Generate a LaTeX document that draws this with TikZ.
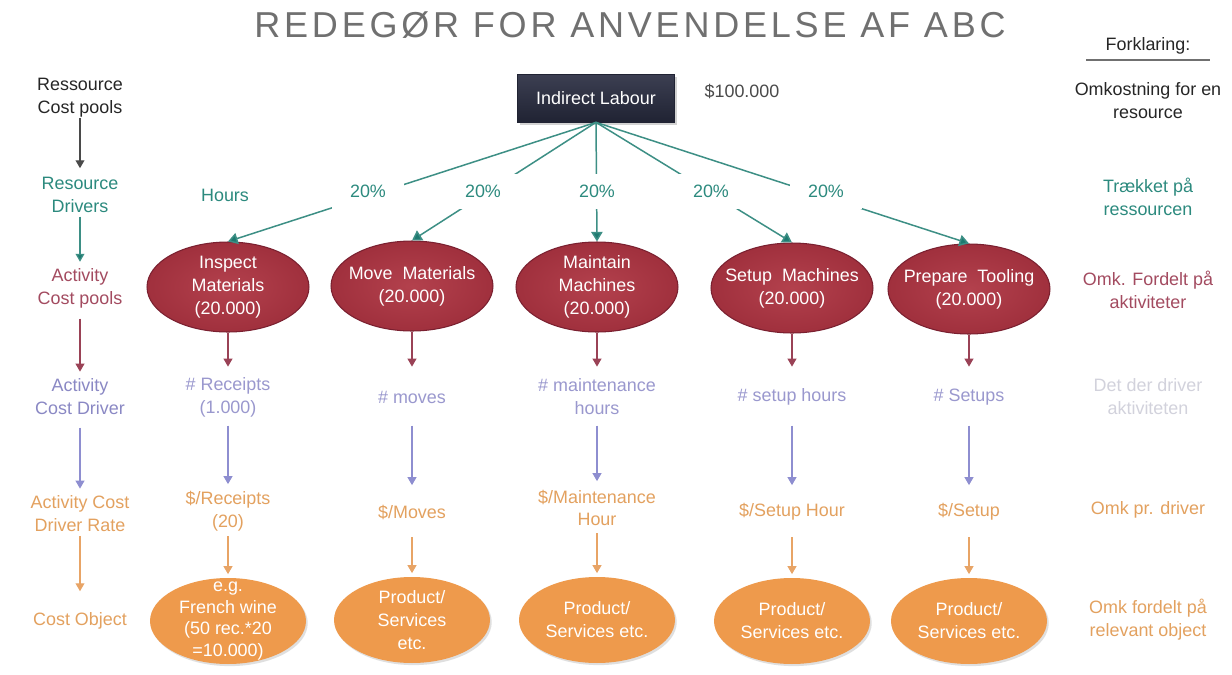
\documentclass[tikz,border=0pt]{standalone}
\usepackage{fontspec}
\setmainfont{Liberation Sans}
\usetikzlibrary{arrows.meta,shapes.geometric,shadows}
\definecolor{titlegray}{HTML}{707070}
\definecolor{darktxt}{HTML}{262626}
\definecolor{darkarrow}{HTML}{4A4A4A}
\definecolor{tealtxt}{HTML}{2C8A7E}
\definecolor{tealline}{HTML}{3D8F85}
\definecolor{tealtip}{HTML}{1E7A70}
\definecolor{maroontxt}{HTML}{A34B60}
\definecolor{maroonline}{HTML}{9A4256}
\definecolor{ellin}{HTML}{B3414D}
\definecolor{ellout}{HTML}{A0303D}
\definecolor{ellborder}{HTML}{7A2030}
\definecolor{lavtxt}{HTML}{8A88C4}
\definecolor{lavlight}{HTML}{9A98CE}
\definecolor{lavline}{HTML}{8E8ED0}
\definecolor{orangetxt}{HTML}{E3A15F}
\definecolor{orangeline}{HTML}{E8A466}
\definecolor{orangefill}{HTML}{EE9A4C}
\definecolor{palegray}{HTML}{D2D2DC}
\definecolor{boxtop}{HTML}{3C3F52}
\definecolor{boxbot}{HTML}{202333}
\begin{document}
\begin{tikzpicture}[x=0.02cm,y=-0.02cm,
  every node/.style={font=\fontsize{10.2}{13}\selectfont, inner sep=0pt, align=center},
  arr/.style={-{Triangle[length=4.5pt,width=5pt]}, line width=0.7pt},
  actpool/.style={ellipse, minimum width=3.24cm, minimum height=1.8cm, draw=ellborder, line width=0.6pt, inner color=ellin, outer color=ellout},
  costobj/.style={ellipse, minimum width=3.12cm, minimum height=1.72cm, fill=orangefill, drop shadow={opacity=0.25, shadow xshift=1pt, shadow yshift=-1.2pt}},
  elltext/.style={text=white},
  pct/.style={fill=white, minimum width=1.46cm, minimum height=0.7cm, text=tealtxt},
  drv/.style={minimum height=0.92cm, text=lavlight},
  rate/.style={minimum height=0.92cm, text=orangetxt},
  fan/.style={arr, draw=tealline, line width=0.85pt, -{Triangle[length=5.5pt,width=6.5pt,fill=tealtip]}},
]
\useasboundingbox (0,0) rectangle (1232,674);
\fill[white] (0,0) rectangle (1232,674);

% title
\node[text=titlegray, font=\fontsize{20.5}{24}\selectfont\addfontfeatures{LetterSpace=10.5}] (title) at (630,25) {REDEGØR FOR ANVENDELSE AF ABC};

% left column
\node[text=darktxt] (L1) at (80,98) {Ressource\\Cost pools};
\node[text=tealtxt] (L2) at (80,195) {Resource\\Drivers};
\node[text=maroontxt] (L3) at (80,288) {Activity\\Cost pools};
\node[text=lavtxt] (L4) at (80,397) {Activity\\Cost Driver};
\node[text=orangetxt] (L5) at (80,514) {Activity Cost\\Driver Rate};
\node[text=orangetxt] (L6) at (80,621) {Cost Object};
\draw[arr, darkarrow, shorten >=5pt] (L1) -- (L2);
\draw[arr, tealline, -{Triangle[length=4.5pt,width=5pt,fill=tealtip]}, shorten <=2pt, shorten >=3.5pt] (L2) -- (L3);
\draw[arr, maroonline, shorten <=6pt, shorten >=4pt] (L3) -- (L4);
\draw[arr, lavline, shorten <=7pt, shorten >=4pt] (L4) -- (L5);
\draw[arr, orangeline, shorten <=2pt, shorten >=12pt] (L5) -- (L6);

% right column
\node[text=darktxt] (R0) at (1148,46) {Forklaring:};
\draw[line width=0.9pt, titlegray] (1086,60) -- (1210,60);
\node[text=darktxt] (R1) at (1148,101) {Omkostning for en\\resource};
\node[text=tealtxt] (R2) at (1148,197) {Trækket på\\ressourcen};
\node[text=maroontxt] (R3) at (1148,290) {Omk. Fordelt på\\aktiviteter};
\node[text=palegray] (R4) at (1148,397) {Det der driver\\aktiviteten};
\node[text=orangetxt] (R5) at (1148,510) {Omk pr. driver};
\node[text=orangetxt] (R6) at (1148,620) {Omk fordelt på\\relevant object};

% top box
\node[minimum width=3.14cm, minimum height=0.96cm, top color=boxtop, bottom color=boxbot, draw=boxbot, text=white, drop shadow={opacity=0.35, shadow xshift=1.5pt, shadow yshift=-1.5pt}] (IL) at (596,98) {Indirect Labour};
\node[text=darkarrow] (amt) at (742,91) {\$100.000};
\node[text=tealtxt] (hours) at (225,195) {Hours};

% activity cost pools
\node[actpool] (A1) at (228,287) {};
\node[actpool] (A2) at (412,286) {};
\node[actpool] (A3) at (597,287) {};
\node[actpool] (A4) at (792,288) {};
\node[actpool] (A5) at (969,289) {};
\node[elltext] at (A1) {Inspect\\Materials\\(20.000)};
\node[elltext] at (A2) {Move~ Materials\\(20.000)};
\node[elltext] at (A3) {Maintain\\Machines\\(20.000)};
\node[elltext] at (A4) {Setup~ Machines\\(20.000)};
\node[elltext] at (A5) {Prepare~ Tooling\\(20.000)};

% fan
\foreach \i in {1,...,5} \draw[fan] (IL.south) -- (A\i.north);
\node[pct] (P1) at (368,191) {20\%};
\node[pct] (P2) at (483,191) {20\%};
\node[pct] (P3) at (597,191) {20\%};
\node[pct] (P4) at (711,191) {20\%};
\node[pct] (P5) at (826,191) {20\%};

% drivers
\node[drv] (D1) at (228,397) {\# Receipts\\(1.000)};
\node[drv] (D2) at (412,397) {\# moves};
\node[drv] (D3) at (597,397) {\# maintenance\\hours};
\node[drv] (D4) at (792,397) {\# setup hours};
\node[drv] (D5) at (969,397) {\# Setups};

% rates
\node[rate] (T1) at (228,511) {\$/Receipts\\(20)};
\node[rate] (T2) at (412,512) {\$/Moves};
\node[rate] (T3) at (597,508) {\$/Maintenance\\Hour};
\node[rate] (T4) at (792,512) {\$/Setup Hour};
\node[rate] (T5) at (969,512) {\$/Setup};

% cost objects
\node[costobj] (C1) at (228,621) {};
\node[costobj] (C2) at (412,620) {};
\node[costobj] (C3) at (597,620) {};
\node[costobj] (C4) at (792,621) {};
\node[costobj] (C5) at (969,621) {};
\node[elltext, font=\fontsize{10.2}{12.4}\selectfont] at (C1) {e.g.\\French wine\\(50 rec.*20\\=10.000)};
\node[elltext] at (C2) {Product/\\Services\\etc.};
\node[elltext] at (C3) {Product/\\Services etc.};
\node[elltext] at (C4) {Product/\\Services etc.};
\node[elltext] at (C5) {Product/\\Services etc.};

% column arrows
\foreach \i in {1,...,5} {
  \draw[arr, maroonline, shorten >=4pt] (A\i.south) -- (A\i.south |- D\i.north);
  \draw[arr, lavline, shorten <=3pt, shorten >=2pt] (D\i.south) -- (T\i.north);
  \draw[arr, orangeline, shorten <=1pt, shorten >=2pt] (T\i.south) -- (C\i.north);
}
\end{tikzpicture}
\end{document}
